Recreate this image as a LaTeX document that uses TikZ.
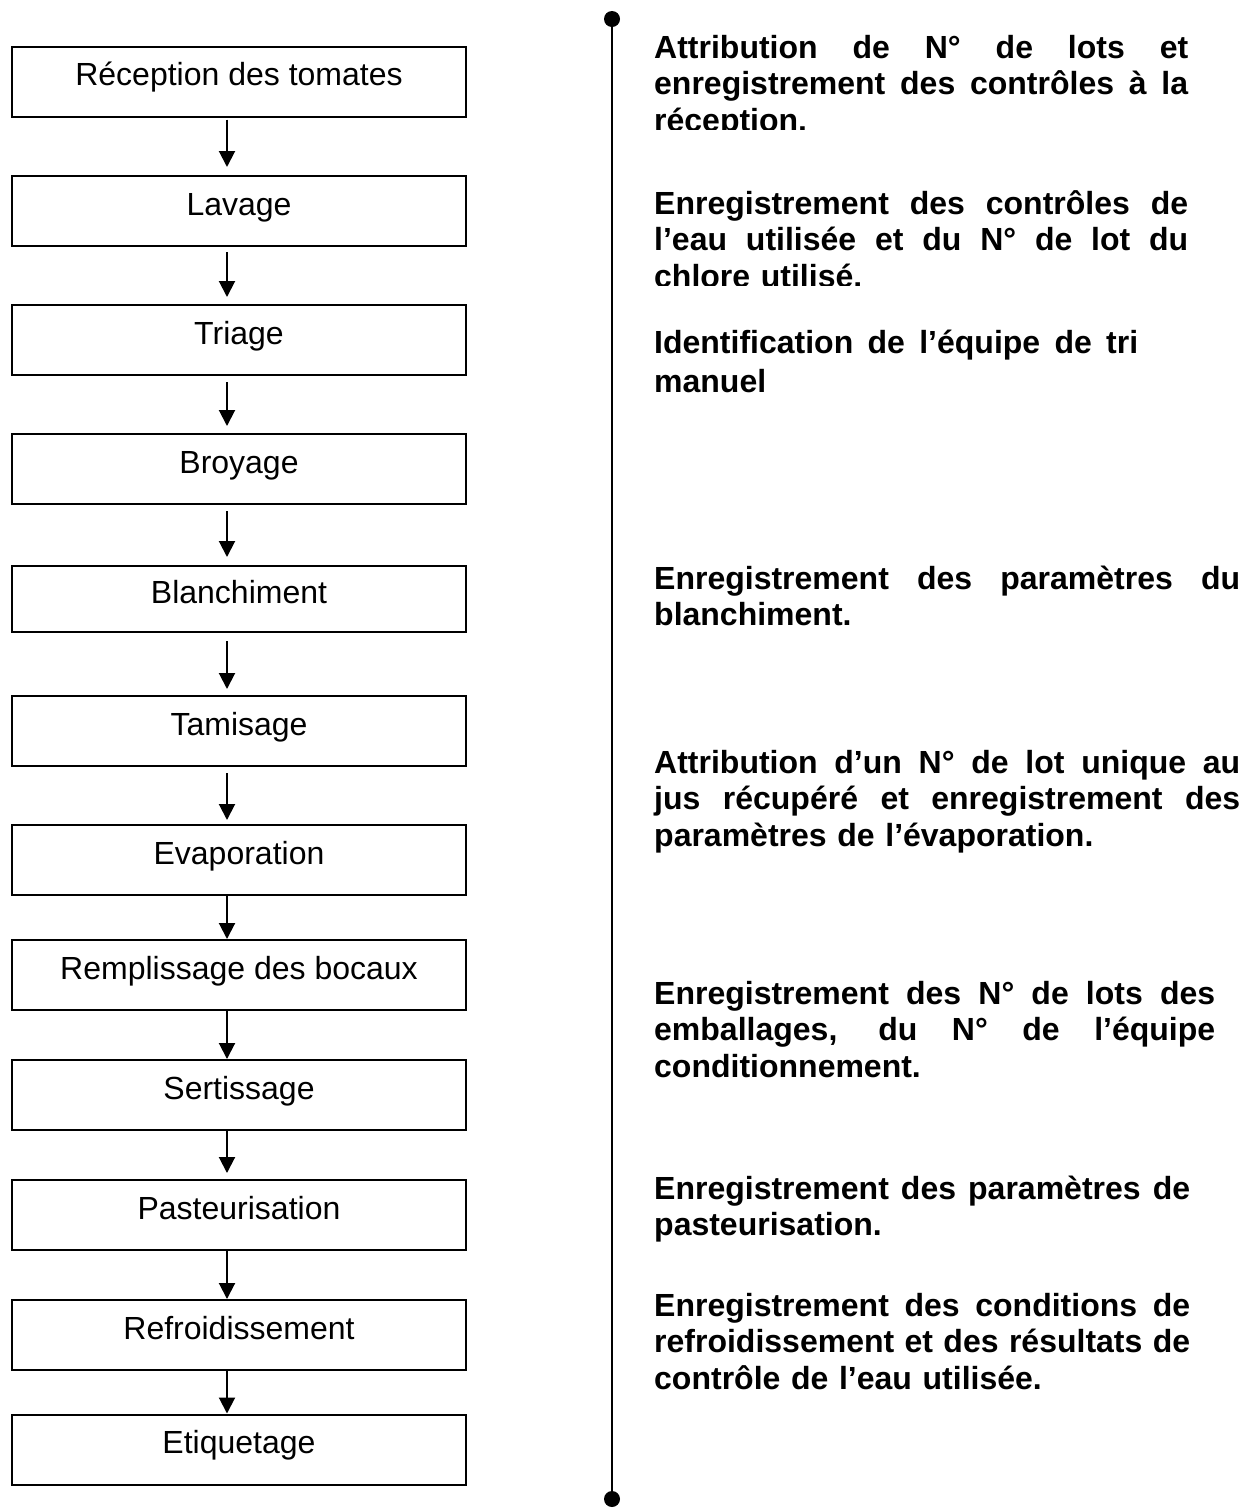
\documentclass[tikz,border=0pt]{standalone}
\usepackage{fontspec}
\setmainfont{Liberation Sans}
\usetikzlibrary{arrows.meta}
\newcommand\jline[2]{\makebox[#1][s]{\spaceskip=0.278em plus 1fil\relax #2}}
\begin{document}
\begin{tikzpicture}[x=1pt,y=-1pt,
  box/.style={draw=black, line width=2pt, minimum width=454pt, minimum height=70pt,
    inner sep=0pt, text height=20pt, text depth=12pt, font=\fontsize{32}{38}\selectfont},
  arr/.style={line width=2pt, -{Triangle[length=16pt,width=16pt]}},
  note/.style={anchor=base west, inner sep=0pt, text width=600pt, align=left,
    font=\bfseries\fontsize{32}{36.7}\selectfont},
  vline/.style={line width=2.5pt},
  dot/.style={fill=black}]
\useasboundingbox (0,0) rectangle (1256,1508);

% process boxes
\node[box] (b1)  at (239,81.5) {Réception des tomates};
\node[box] (b2)  at (239,211)  {Lavage};
\node[box] (b3)  at (239,340)  {Triage};
\node[box] (b4)  at (239,469)  {Broyage};
\node[box, minimum height=66pt] (b5)  at (239,599) {Blanchiment};
\node[box] (b6)  at (239,731)  {Tamisage};
\node[box] (b7)  at (239,860)  {Evaporation};
\node[box] (b8)  at (239,975)  {Remplissage des bocaux};
\node[box] (b9)  at (239,1095) {Sertissage};
\node[box] (b10) at (239,1215) {Pasteurisation};
\node[box] (b11) at (239,1335) {Refroidissement};
\node[box] (b12) at (239,1449.5) {Etiquetage};

% arrows
\coordinate (ax) at (227,0);
\draw[arr, shorten <=2pt, shorten >=8pt] (b1.south -| ax) -- (b2.north -| ax);
\draw[arr, shorten <=5pt, shorten >=7pt] (b2.south -| ax) -- (b3.north -| ax);
\draw[arr, shorten <=6pt, shorten >=7pt] (b3.south -| ax) -- (b4.north -| ax);
\draw[arr, shorten <=6pt, shorten >=8pt] (b4.south -| ax) -- (b5.north -| ax);
\draw[arr, shorten <=8pt, shorten >=6pt] (b5.south -| ax) -- (b6.north -| ax);
\draw[arr, shorten <=6pt, shorten >=4pt] (b6.south -| ax) -- (b7.north -| ax);
\draw[arr] (b7.south -| ax) -- (b8.north -| ax);
\draw[arr] (b8.south -| ax) -- (b9.north -| ax);
\draw[arr, shorten >=6pt] (b9.south -| ax) -- (b10.north -| ax);
\draw[arr] (b10.south -| ax) -- (b11.north -| ax);
\draw[arr] (b11.south -| ax) -- (b12.north -| ax);

% vertical line with dots
\coordinate (vtop) at (612,19);
\coordinate (vbot) at (612,1499);
\draw[vline] (vtop) -- (vbot);
\fill[dot] (vtop) circle (8pt);
\fill[dot] (vbot) circle (8pt);

% notes
\begin{scope}
\clip (640,0) rectangle (1256,129);
\node[note] (n1) at (654,58) {\jline{534pt}{Attribution de N° de lots et}\\
\jline{534pt}{enregistrement des contrôles à la}\\réception.};
\end{scope}
\begin{scope}
\clip (640,150) rectangle (1256,285);
\node[note] (n2) at (654,214) {\jline{534pt}{Enregistrement des contrôles de}\\
\jline{534pt}{l’eau utilisée et du N° de lot du}\\chlore utilisé.};
\end{scope}
\node[note, font=\bfseries\fontsize{32}{39.5}\selectfont] (n3) at (654,353) {\jline{484pt}{Identification de l’équipe de tri}\\manuel};
\node[note] (n4) at (654,589) {\jline{586pt}{Enregistrement des paramètres du}\\blanchiment.};
\node[note] (n5) at (654,773) {\jline{586pt}{Attribution d’un N° de lot unique au}\\
\jline{586pt}{jus récupéré et enregistrement des}\\paramètres de l’évaporation.};
\node[note] (n6) at (654,1004) {\jline{561pt}{Enregistrement des N° de lots des}\\
\jline{561pt}{emballages, du N° de l’équipe}\\conditionnement.};
\node[note] (n7) at (654,1199) {\jline{536pt}{Enregistrement des paramètres de}\\pasteurisation.};
\node[note] (n8) at (654,1316) {\jline{536pt}{Enregistrement des conditions de}\\
\jline{536pt}{refroidissement et des résultats de}\\contrôle de l’eau utilisée.};
\end{tikzpicture}
\end{document}
